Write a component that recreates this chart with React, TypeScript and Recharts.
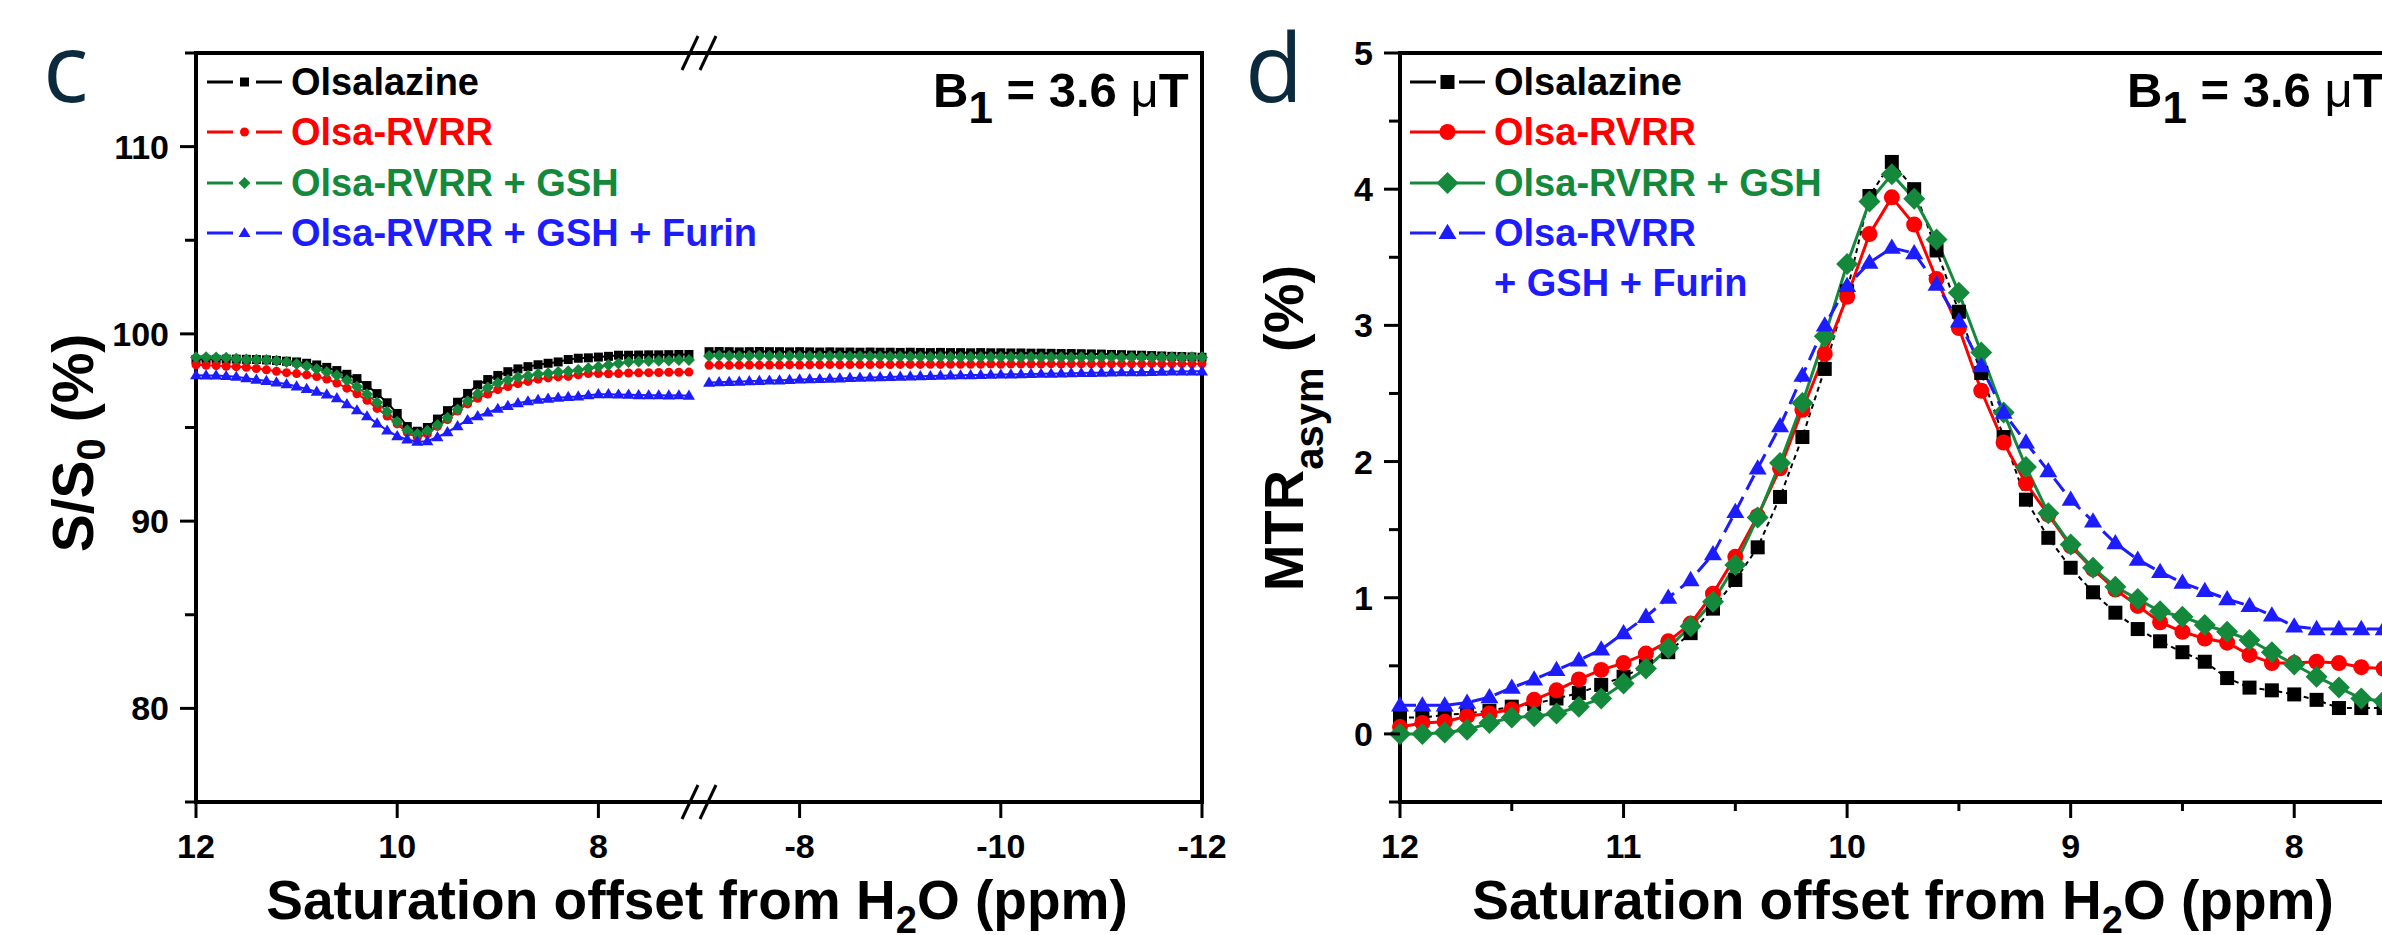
import React from 'react';
import { LineChart, Line, XAxis, YAxis, ReferenceArea, ReferenceDot, Legend } from 'recharts';

const FONT = '"Liberation Sans", Arial, Helvetica, sans-serif';
const LETTER_FONT = '"Open Sans", "Liberation Sans", sans-serif';

// panel c: Z-spectra, S/S0 (%), offsets in ppm
const Z_OFFSETS_POS = [
  12.0, 11.9, 11.8, 11.7, 11.6, 11.5, 11.4, 11.3, 11.2, 11.1, 11.0, 10.9, 10.8, 10.7, 10.6, 10.5, 10.4,
  10.3, 10.2, 10.1, 10.0, 9.9, 9.8, 9.7, 9.6, 9.5, 9.4, 9.3, 9.2, 9.1, 9.0, 8.9, 8.8, 8.7, 8.6, 8.5, 8.4,
  8.3, 8.2, 8.1, 8.0, 7.9, 7.8, 7.7, 7.6, 7.5, 7.4, 7.3, 7.2, 7.1,
];
const Z_OFFSETS_NEG = [
  -7.1, -7.2, -7.3, -7.4, -7.5, -7.6, -7.7, -7.8, -7.9, -8.0, -8.1, -8.2, -8.3, -8.4, -8.5, -8.6, -8.7,
  -8.8, -8.9, -9.0, -9.1, -9.2, -9.3, -9.4, -9.5, -9.6, -9.7, -9.8, -9.9, -10.0, -10.1, -10.2, -10.3,
  -10.4, -10.5, -10.6, -10.7, -10.8, -10.9, -11.0, -11.1, -11.2, -11.3, -11.4, -11.5, -11.6, -11.7,
  -11.8, -11.9, -12.0,
];

const Z_OLSA_POS = [
  98.63, 98.64, 98.64, 98.65, 98.65, 98.64, 98.63, 98.61, 98.58, 98.54, 98.5, 98.43, 98.34, 98.21, 98.04,
  97.84, 97.61, 97.24, 96.81, 96.32, 95.75, 95.05, 94.8, 95.0, 95.45, 95.9, 96.35, 96.82, 97.28, 97.56,
  97.78, 97.98, 98.13, 98.25, 98.35, 98.43, 98.5, 98.63, 98.7, 98.72, 98.76, 98.8, 98.86, 98.86, 98.87,
  98.88, 98.88, 98.89, 98.9, 98.9,
];
const Z_RVRR_POS = [
  98.35, 98.32, 98.31, 98.27, 98.25, 98.22, 98.15, 98.08, 98.0, 97.93, 97.88, 97.81, 97.72, 97.59, 97.37,
  97.1, 96.8, 96.45, 96.02, 95.61, 95.19, 94.73, 94.46, 94.66, 95.06, 95.42, 95.88, 96.26, 96.56, 96.79,
  97.02, 97.19, 97.34, 97.46, 97.58, 97.65, 97.7, 97.73, 97.82, 97.88, 97.88, 97.87, 97.88, 97.91, 97.92,
  97.93, 97.94, 97.95, 97.95, 97.96,
];
const Z_GSH_POS = [
  98.75, 98.75, 98.74, 98.72, 98.67, 98.63, 98.62, 98.6, 98.56, 98.5, 98.39, 98.28, 98.13, 97.97, 97.79,
  97.52, 97.17, 96.77, 96.33, 95.84, 95.31, 94.85, 94.65, 94.83, 95.13, 95.52, 95.96, 96.4, 96.8, 97.14,
  97.37, 97.54, 97.68, 97.77, 97.86, 97.9, 97.96, 98.01, 98.07, 98.16, 98.25, 98.34, 98.42, 98.5, 98.53,
  98.55, 98.57, 98.58, 98.6, 98.6,
];
const Z_FURIN_POS = [
  97.79, 97.78, 97.78, 97.75, 97.71, 97.63, 97.56, 97.49, 97.41, 97.32, 97.19, 97.06, 96.91, 96.77, 96.57,
  96.25, 95.92, 95.6, 95.22, 94.84, 94.54, 94.36, 94.24, 94.27, 94.49, 94.75, 95.07, 95.4, 95.61, 95.8,
  96.0, 96.15, 96.3, 96.4, 96.48, 96.54, 96.59, 96.63, 96.66, 96.72, 96.78, 96.78, 96.76, 96.75, 96.73,
  96.72, 96.72, 96.71, 96.72, 96.7,
];

const Z_OLSA_NEG = [
  99.05, 99.06, 99.05, 99.04, 99.05, 99.06, 99.05, 99.05, 99.04, 99.05, 99.04, 99.03, 99.04, 99.03, 99.03,
  99.02, 99.03, 99.02, 99.02, 99.01, 99.02, 99.01, 99.0, 99.01, 99.0, 99.0, 98.99, 99.0, 98.99, 98.99,
  98.98, 98.98, 98.97, 98.97, 98.96, 98.95, 98.95, 98.94, 98.93, 98.92, 98.9, 98.89, 98.87, 98.86, 98.84,
  98.82, 98.8, 98.79, 98.77, 98.75,
];
const Z_RVRR_NEG = [
  98.32, 98.33, 98.32, 98.33, 98.34, 98.33, 98.34, 98.34, 98.35, 98.34, 98.35, 98.35, 98.36, 98.35, 98.36,
  98.36, 98.36, 98.37, 98.36, 98.37, 98.37, 98.37, 98.38, 98.37, 98.38, 98.38, 98.38, 98.38, 98.39, 98.38,
  98.39, 98.39, 98.39, 98.39, 98.4, 98.39, 98.4, 98.4, 98.4, 98.4, 98.4, 98.41, 98.4, 98.4, 98.41,
  98.4, 98.4, 98.41, 98.4, 98.4,
];
const Z_GSH_NEG = [
  98.82, 98.83, 98.82, 98.81, 98.82, 98.83, 98.82, 98.81, 98.82, 98.81, 98.8, 98.81, 98.8, 98.8, 98.79,
  98.8, 98.79, 98.79, 98.78, 98.79, 98.78, 98.78, 98.77, 98.78, 98.77, 98.77, 98.76, 98.77, 98.76, 98.76,
  98.76, 98.75, 98.76, 98.75, 98.75, 98.75, 98.74, 98.75, 98.74, 98.75, 98.75, 98.74, 98.75, 98.75, 98.74,
  98.75, 98.75, 98.74, 98.75, 98.75,
];
const Z_FURIN_NEG = [
  97.4, 97.42, 97.44, 97.45, 97.48, 97.49, 97.51, 97.52, 97.54, 97.57, 97.58, 97.59, 97.61, 97.62, 97.65,
  97.66, 97.67, 97.69, 97.7, 97.72, 97.73, 97.74, 97.75, 97.77, 97.78, 97.79, 97.8, 97.81, 97.82, 97.83,
  97.84, 97.85, 97.86, 97.87, 97.88, 97.89, 97.9, 97.91, 97.92, 97.93, 97.94, 97.95, 97.95, 97.96, 97.97,
  97.98, 97.99, 97.99, 98.0, 98.0,
];

// panel d: MTRasym (%)
const MTR_OFFSETS = [
  12.0, 11.9, 11.8, 11.7, 11.6, 11.5, 11.4, 11.3, 11.2, 11.1, 11.0, 10.9, 10.8, 10.7, 10.6, 10.5, 10.4,
  10.3, 10.2, 10.1, 10.0, 9.9, 9.8, 9.7, 9.6, 9.5, 9.4, 9.3, 9.2, 9.1, 9.0, 8.9, 8.8, 8.7, 8.6, 8.5, 8.4,
  8.3, 8.2, 8.1, 8.0, 7.9, 7.8, 7.7, 7.6, 7.5,
];
const MTR_OLSA = [
  0.12, 0.12, 0.14, 0.15, 0.17, 0.2, 0.22, 0.26, 0.3, 0.36, 0.42, 0.5, 0.6, 0.74, 0.92, 1.13, 1.37, 1.74,
  2.18, 2.68, 3.25, 3.95, 4.2, 4.0, 3.55, 3.1, 2.65, 2.18, 1.72, 1.44, 1.22, 1.04, 0.89, 0.77, 0.68, 0.6,
  0.53, 0.41, 0.34, 0.32, 0.29, 0.25, 0.19, 0.19, 0.19, 0.18,
];
const MTR_RVRR = [
  0.05, 0.08, 0.09, 0.13, 0.15, 0.18, 0.25, 0.32, 0.4, 0.47, 0.52, 0.59, 0.68, 0.81, 1.03, 1.3, 1.6, 1.95,
  2.38, 2.79, 3.21, 3.67, 3.94, 3.74, 3.34, 2.98, 2.52, 2.14, 1.84, 1.61, 1.38, 1.21, 1.06, 0.94, 0.82,
  0.75, 0.7, 0.67, 0.58, 0.52, 0.52, 0.53, 0.52, 0.49, 0.48, 0.47,
];
const MTR_GSH = [
  0.0, 0.0, 0.01, 0.03, 0.08, 0.12, 0.13, 0.15, 0.2, 0.26, 0.37, 0.48, 0.63, 0.79, 0.97, 1.24, 1.59, 1.99,
  2.43, 2.92, 3.45, 3.91, 4.11, 3.93, 3.63, 3.24, 2.8, 2.36, 1.96, 1.62, 1.39, 1.22, 1.08, 0.99, 0.9,
  0.86, 0.8, 0.75, 0.69, 0.6, 0.51, 0.42, 0.34, 0.26, 0.24, 0.22,
];
const MTR_FURIN = [
  0.21, 0.21, 0.21, 0.23, 0.27, 0.34, 0.4, 0.47, 0.54, 0.62, 0.74, 0.86, 1.0, 1.13, 1.32, 1.63, 1.95,
  2.26, 2.63, 3.0, 3.29, 3.46, 3.57, 3.53, 3.3, 3.03, 2.7, 2.36, 2.14, 1.93, 1.72, 1.56, 1.4, 1.28, 1.19,
  1.11, 1.05, 0.99, 0.94, 0.87, 0.79, 0.77, 0.77, 0.77, 0.77, 0.76,
];

const C_Y_TICKS = [75, 80, 85, 90, 95, 100, 105, 110, 115];
const C_X_TICKS = [12, 10, 8, -8, -10, -12];
const D_Y_TICKS = [-0.5, 0, 0.5, 1, 1.5, 2, 2.5, 3, 3.5, 4, 4.5, 5];
const D_X_TICKS = [12, 11.5, 11, 10.5, 10, 9.5, 9, 8.5, 8, 7.5];

const SERIES = [
  { key: 'olsa', name: 'Olsalazine', color: '#000000', marker: 'square' },
  { key: 'rvrr', name: 'Olsa-RVRR', color: '#ff0000', marker: 'circle' },
  { key: 'gsh', name: 'Olsa-RVRR + GSH', color: '#14893b', marker: 'diamond' },
  { key: 'furin', name: 'Olsa-RVRR + GSH + Furin', color: '#1c1cff', marker: 'triangle' },
];

// broken axis: 12..7 on the left half, -7..-12 on the right half
const toAxis = (v: number) => (v > 0 ? 12 - v : -2 - v);
const fromAxis = (p: number) => (p <= 5 ? 12 - p : -2 - p);

const zData = [
  ...Z_OFFSETS_POS.map((x, i) => ({
    p: toAxis(x), olsa: Z_OLSA_POS[i], rvrr: Z_RVRR_POS[i], gsh: Z_GSH_POS[i], furin: Z_FURIN_POS[i],
  })),
  { p: 5, olsa: null, rvrr: null, gsh: null, furin: null },
  ...Z_OFFSETS_NEG.map((x, i) => ({
    p: toAxis(x), olsa: Z_OLSA_NEG[i], rvrr: Z_RVRR_NEG[i], gsh: Z_GSH_NEG[i], furin: Z_FURIN_NEG[i],
  })),
];

const mtrData = MTR_OFFSETS.map((x, i) => ({
  x, olsa: MTR_OLSA[i], rvrr: MTR_RVRR[i], gsh: MTR_GSH[i], furin: MTR_FURIN[i],
}));

const drawMarker = (kind: string, cx: number, cy: number, s: number, color: string, key?: string) => {
  if (kind === 'square') {
    return <rect key={key} x={cx - s / 2} y={cy - s / 2} width={s} height={s} fill={color} />;
  }
  if (kind === 'circle') {
    return <circle key={key} cx={cx} cy={cy} r={s / 2} fill={color} />;
  }
  if (kind === 'diamond') {
    const h = s / 2;
    return <polygon key={key} points={`${cx},${cy - h} ${cx + h},${cy} ${cx},${cy + h} ${cx - h},${cy}`} fill={color} />;
  }
  const h = s * 0.85;
  return (
    <polygon
      key={key}
      points={`${cx},${cy - h * 0.6} ${cx + s / 2},${cy + h * 0.4} ${cx - s / 2},${cy + h * 0.4}`}
      fill={color}
    />
  );
};

const dotRenderer = (kind: string, size: number, color: string) => (props: any) => {
  const { cx, cy, index, value } = props;
  if (value == null || cy == null || isNaN(cy)) return <g key={`d-${index}`} />;
  return drawMarker(kind, cx, cy, size, color, `d-${index}`);
};

const C_SIZES: Record<string, number> = { square: 9, circle: 9, diamond: 12, triangle: 12 };
const D_SIZES: Record<string, number> = { square: 14, circle: 16, diamond: 22, triangle: 18 };
const D_DASH: Record<string, string | undefined> = { olsa: '5 4', rvrr: undefined, gsh: undefined, furin: '16 8' };
const D_WIDTH: Record<string, number> = { olsa: 2, rvrr: 3, gsh: 3, furin: 3 };

const tickText = { fontFamily: FONT, fontWeight: 'bold' as const, fontSize: 34, fill: '#000' };

const CYTick = (props: any) => {
  const { x, y, payload } = props;
  const v = payload.value;
  const major = v % 10 === 0;
  return (
    <g>
      <line x1={x - (major ? 16 : 11)} x2={x} y1={y} y2={y} stroke="#000" strokeWidth={3} />
      {major && <text x={x - 27} y={y + 12} textAnchor="end" {...tickText}>{v}</text>}
    </g>
  );
};

const DYTick = (props: any) => {
  const { x, y, payload } = props;
  const v = payload.value;
  const major = Number.isInteger(v);
  return (
    <g>
      <line x1={x - (major ? 16 : 11)} x2={x} y1={y} y2={y} stroke="#000" strokeWidth={3} />
      {major && <text x={x - 27} y={y + 12} textAnchor="end" {...tickText}>{v}</text>}
    </g>
  );
};

const CXTick = (props: any) => {
  const { x, y, payload } = props;
  const label = Math.round(fromAxis(payload.value));
  return (
    <g>
      <line x1={x} x2={x} y1={y} y2={y + 16} stroke="#000" strokeWidth={3} />
      <text x={x} y={y + 56} textAnchor="middle" {...tickText}>{label}</text>
    </g>
  );
};

const DXTick = (props: any) => {
  const { x, y, payload } = props;
  const v = payload.value;
  const major = Number.isInteger(v);
  return (
    <g>
      <line x1={x} x2={x} y1={y} y2={y + (major ? 16 : 9)} stroke="#000" strokeWidth={3} />
      {major && <text x={x} y={y + 56} textAnchor="middle" {...tickText}>{v}</text>}
    </g>
  );
};

const BreakMark = (props: any) => {
  const { cx, cy } = props;
  return (
    <g>
      {[-9, 9].map((d) => (
        <line key={d} x1={cx + d - 8} y1={cy + 17} x2={cx + d + 8} y2={cy - 17} stroke="#000" strokeWidth={3} />
      ))}
    </g>
  );
};

const ROW_Y = [82, 132, 183, 233];

const makeLegend = (
  symLeft: number,
  textLeft: number,
  sizes: Record<string, number>,
  gapped: string[],
  labels: Record<string, string[]>,
) => (props: any) => {
  const items = props.payload || [];
  return (
    <svg width={800} height={320} style={{ overflow: 'visible', display: 'block' }}>
      {items.map((item: any) => {
        const s = SERIES.find((d) => d.key === item.dataKey) || SERIES[0];
        const i = SERIES.indexOf(s);
        const y = ROW_Y[i];
        const mid = symLeft + 37.5;
        const lines = labels[s.key] || [s.name];
        return (
          <g key={s.key}>
            {gapped.includes(s.key) ? (
              <>
                <line x1={symLeft} x2={symLeft + 26} y1={y} y2={y} stroke={s.color} strokeWidth={3} />
                <line x1={symLeft + 49} x2={symLeft + 75} y1={y} y2={y} stroke={s.color} strokeWidth={3} />
              </>
            ) : (
              <line x1={symLeft} x2={symLeft + 75} y1={y} y2={y} stroke={s.color} strokeWidth={3} />
            )}
            {drawMarker(s.marker, mid, y, sizes[s.marker], s.color)}
            {lines.map((t, k) => (
              <text
                key={k}
                x={textLeft}
                y={y + 13 + k * 50}
                fontFamily={FONT}
                fontWeight="bold"
                fontSize={38}
                fill={s.color}
              >
                {t}
              </text>
            ))}
          </g>
        );
      })}
    </svg>
  );
};

const legendC = makeLegend(207, 291, C_SIZES, ['olsa', 'rvrr', 'gsh', 'furin'], {});
const legendD = makeLegend(170, 254, D_SIZES, ['olsa', 'furin'], { furin: ['Olsa-RVRR', '+ GSH + Furin'] });

const PanelC = () => (
  <LineChart width={1240} height={935} data={zData} margin={{ top: 53, right: 38, bottom: 93, left: 136 }}>
    <XAxis
      type="number"
      dataKey="p"
      domain={[0, 10]}
      ticks={C_X_TICKS.map(toAxis)}
      interval={0}
      height={40}
      axisLine={false}
      tickLine={false}
      tickSize={0}
      tickMargin={0}
      tick={CXTick}
    />
    <YAxis
      type="number"
      domain={[75, 115]}
      ticks={C_Y_TICKS}
      interval={0}
      width={60}
      axisLine={false}
      tickLine={false}
      tickSize={0}
      tickMargin={0}
      tick={CYTick}
    />
    <ReferenceArea x1={0} x2={10} y1={75} y2={115} fill="none" stroke="#000" strokeWidth={4} ifOverflow="visible" />
    {SERIES.map((s) => (
      <Line
        key={s.key}
        dataKey={s.key}
        name={s.name}
        stroke={s.color}
        strokeWidth={2}
        dot={dotRenderer(s.marker, C_SIZES[s.marker], s.color)}
        activeDot={false}
        isAnimationActive={false}
      />
    ))}
    <ReferenceDot x={5} y={115} r={0} ifOverflow="visible" shape={BreakMark} />
    <ReferenceDot x={5} y={75} r={0} ifOverflow="visible" shape={BreakMark} />
    <Legend
      layout="horizontal"
      verticalAlign="middle"
      align="center"
      content={legendC}
      wrapperStyle={{ left: 0, top: 0, width: 800, height: 320 }}
    />
  </LineChart>
);

const PanelD = () => (
  <LineChart width={1240} height={935} data={mtrData} margin={{ top: 53, right: 74, bottom: 93, left: 100 }}>
    <XAxis
      type="number"
      dataKey="x"
      domain={[7.5, 12]}
      reversed
      ticks={D_X_TICKS}
      interval={0}
      height={40}
      axisLine={false}
      tickLine={false}
      tickSize={0}
      tickMargin={0}
      tick={DXTick}
    />
    <YAxis
      type="number"
      domain={[-0.5, 5]}
      ticks={D_Y_TICKS}
      interval={0}
      width={60}
      axisLine={false}
      tickLine={false}
      tickSize={0}
      tickMargin={0}
      tick={DYTick}
    />
    <ReferenceArea x1={7.5} x2={12} y1={-0.5} y2={5} fill="none" stroke="#000" strokeWidth={4} ifOverflow="visible" />
    {SERIES.map((s) => (
      <Line
        key={s.key}
        dataKey={s.key}
        name={s.name}
        stroke={s.color}
        strokeWidth={D_WIDTH[s.key]}
        strokeDasharray={D_DASH[s.key]}
        dot={dotRenderer(s.marker, D_SIZES[s.marker], s.color)}
        activeDot={false}
        isAnimationActive={false}
      />
    ))}
    <Legend
      layout="horizontal"
      verticalAlign="middle"
      align="center"
      content={legendD}
      wrapperStyle={{ left: 0, top: 0, width: 800, height: 320 }}
    />
  </LineChart>
);

const titleStyle = { fontFamily: FONT, fontWeight: 'bold' as const, fill: '#000' };

const B1Label = ({ x }: { x: number }) => (
  <text x={x} y={107} fontSize={49} {...titleStyle}>
    B<tspan fontSize={44} dy={16}>1</tspan>
    <tspan dy={-16}> = 3.6 </tspan>
    <tspan fontWeight="normal">μ</tspan>
    <tspan>T</tspan>
  </text>
);

export default function App() {
  return (
    <div
      style={{
        position: 'absolute',
        left: 0,
        top: 0,
        width: 2382,
        height: 935,
        overflow: 'hidden',
        background: '#fff',
      }}
    >
      <div style={{ position: 'absolute', left: 0, top: 0 }}>
        <PanelC />
      </div>
      <div style={{ position: 'absolute', left: 1240, top: 0 }}>
        <PanelD />
      </div>
      <svg
        width={2382}
        height={935}
        style={{ position: 'absolute', left: 0, top: 0, pointerEvents: 'none' }}
      >
        <text x={43} y={102} fontFamily={LETTER_FONT} fontSize={95} fill="#0c2a3d">c</text>
        <text x={1245} y={102} fontFamily={LETTER_FONT} fontSize={95} fill="#0c2a3d">d</text>

        <B1Label x={933} />
        <B1Label x={2127} />

        <text x={697} y={919} textAnchor="middle" fontSize={55} {...titleStyle}>
          Saturation offset from H<tspan fontSize={38} dy={14}>2</tspan>
          <tspan dy={-14}>O (ppm)</tspan>
        </text>
        <text x={1903} y={919} textAnchor="middle" fontSize={55} {...titleStyle}>
          Saturation offset from H<tspan fontSize={38} dy={14}>2</tspan>
          <tspan dy={-14}>O (ppm)</tspan>
        </text>

        <text transform="translate(93,443) rotate(-90)" textAnchor="middle" fontSize={57} {...titleStyle}>
          S/S<tspan fontSize={40} dy={12}>0</tspan>
          <tspan dy={-12}> (%)</tspan>
        </text>
        <text transform="translate(1303,428) rotate(-90)" textAnchor="middle" fontSize={56} {...titleStyle}>
          MTR<tspan fontSize={40} dy={20}>asym</tspan>
          <tspan dy={-20}> (%)</tspan>
        </text>
      </svg>
    </div>
  );
}
